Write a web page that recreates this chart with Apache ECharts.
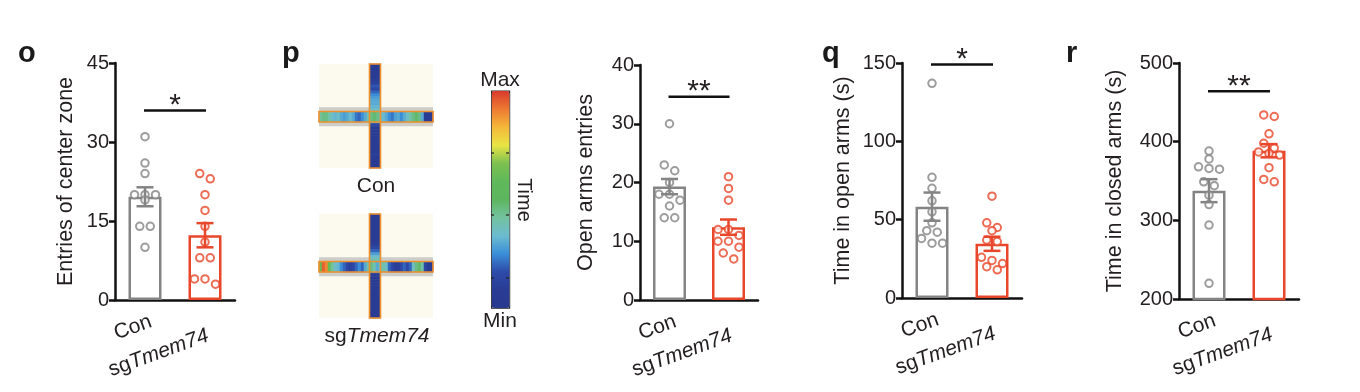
<!DOCTYPE html>
<html><head><meta charset="utf-8">
<script src="https://cdn.jsdelivr.net/npm/echarts@6/dist/echarts.min.js"></script>
<style>html,body{margin:0;padding:0;background:#fff}#c{width:1360px;height:392px}</style>
</head><body><div id="c"></div>
<script>
// ---------------- data ----------------
const categories = ['Con', 'sgTmem74'];

// panel o: Entries of center zone
const oCon = [31, 26, 24, 20, 20, 20, 19, 14, 14, 10];
const oSg = [24, 23, 20, 17, 14, 11, 8, 8, 4, 4, 3];
const oMean = [19.6, 12.3];
const oSem = [1.8, 2.3];
const oSigY = 36;
const oSigLabel = '*';
const oTicks = [0, 15, 30, 45];

// panel p: Open arms entries
const pCon = [30, 23, 22, 20, 18, 18, 17, 16, 14, 14];
const pSg = [21, 19, 17, 12, 12, 11, 10, 10, 9, 8, 7];
const pMean = [19.3, 12.4];
const pSem = [1.3, 1.3];
const pSigY = 34.6;
const pSigLabel = '**';
const pTicks = [0, 10, 20, 30, 40];

// panel q: Time in open arms (s)
const qCon = [137, 77, 70, 62, 55, 48, 43, 42, 38, 35, 35];
const qSg = [65, 48, 45, 43, 37, 36, 26, 24, 22, 20, 18];
const qMean = [58.3, 34.6];
const qSem = [9.0, 4.5];
const qSigY = 149;
const qSigLabel = '*';
const qTicks = [0, 50, 100, 150];

// panel r: Time in closed arms (s)
const rCon = [388, 378, 368, 366, 365, 349, 344, 332, 320, 294, 220];
const rSg = [434, 432, 410, 398, 392, 387, 385, 383, 367, 352, 349];
const rMean = [337.7, 388.5];
const rSem = [14.6, 8.4];
const rSigY = 464;
const rSigLabel = '**';
const rTicks = [200, 300, 400, 500];

// panel p heat maps (relative time, 0 = Min, 1 = Max), along each arm
const conHArm = [0.42,0.45,0.45,0.40,0.35,0.32,0.35,0.30,0.28,0.30,0.33,0.30,0.22,0.20,0.25,0.30,0.38,0.45,0.48,
                 0.45,0.38,0.33,0.30,0.25,0.22,0.28,0.30,0.25,0.30,0.35,0.40,0.45,0.48,0.45,0.30,0.08,0.05,0.05];
const conVArm = [0.05,0.05,0.05,0.06,0.08,0.10,0.12,0.18,0.15,0.20,0.25,0.28,0.30,0.30,0.32,0.35,0.40,0.45,
                 0.45,0.35,0.15,0.08,0.05,0.05,0.05,0.05,0.05,0.06,0.05,0.05,0.10,0.05,0.05,0.05,0.05];
const sgHArm = [0.60,0.95,0.90,0.60,0.42,0.35,0.32,0.25,0.20,0.15,0.12,0.15,0.20,0.25,0.20,0.30,0.40,0.45,0.40,
                0.30,0.35,0.40,0.35,0.20,0.15,0.10,0.10,0.15,0.20,0.15,0.20,0.35,0.45,0.48,0.40,0.15,0.08,0.05];
const sgVArm = [0.05,0.05,0.05,0.05,0.05,0.05,0.05,0.05,0.05,0.05,0.10,0.15,0.20,0.28,0.35,0.38,0.40,0.35,
                0.30,0.20,0.10,0.05,0.05,0.05,0.05,0.05,0.05,0.05,0.05,0.05,0.05,0.05,0.05,0.05,0.05];
const heatColors = ['#283a8f','#293c94','#2d4aa8','#3a8ed8','#6cbcd0','#74c2a0','#5cb65e','#5fb85a',
                    '#7cc050','#e8e444','#f4b83a','#ee7a32','#d83a2c'];

// ---------------- styling ----------------
const FONT = '"Liberation Sans", Arial, sans-serif';
const TXT = '#231f20';
const GRAY = '#848484';
const RED = '#e8472b';
const ORANGE = '#f0902a';
const LABEL_OFFSET = [[6, 21], [3, 35]]; // category label anchor offsets (px) from tick

const panels = [
  {con: oCon, sg: oSg, mean: oMean, sem: oSem, sigY: oSigY, sig: oSigLabel, ticks: oTicks,
   name: 'Entries of center zone', grid: {left: 115, top: 63, width: 120, height: 237}, gap: 38},
  {con: pCon, sg: pSg, mean: pMean, sem: pSem, sigY: pSigY, sig: pSigLabel, ticks: pTicks,
   name: 'Open arms entries', grid: {left: 640, top: 65, width: 118, height: 235}, gap: 43},
  {con: qCon, sg: qSg, mean: qMean, sem: qSem, sigY: qSigY, sig: qSigLabel, ticks: qTicks,
   name: 'Time in open arms (s)', grid: {left: 902, top: 63, width: 120, height: 235}, gap: 48},
  {con: rCon, sg: rSg, mean: rMean, sem: rSem, sigY: rSigY, sig: rSigLabel, ticks: rTicks,
   name: 'Time in closed arms (s)', grid: {left: 1179, top: 63, width: 120, height: 236}, gap: 53}
];

// scatter-dot layout (layout only): rows of at most 3 centred points, offsets in x-value units
function swarm(values, min, max, hPx, wPx) {
  const pxPerUnit = hPx / (max - min);
  const unitPerPx = 1 / (wPx / 2);
  const idx = values.map((v, i) => i).sort((a, b) => values[b] - values[a]);
  const groups = [];
  idx.forEach(i => {
    const g = groups[groups.length - 1];
    if (g && g.length < 3 && (values[g[0]] - values[i]) * pxPerUnit < 7) g.push(i); else groups.push([i]);
  });
  const off = new Array(values.length).fill(0);
  groups.forEach(g => g.forEach((i, k) => { off[i] = (k - (g.length - 1) / 2) * 10.5 * unitPerPx; }));
  return off;
}

const grids = [], xAxes = [], yAxes = [], series = [];

panels.forEach((P, k) => {
  const min = P.ticks[0], max = P.ticks[P.ticks.length - 1];
  grids.push(Object.assign({containLabel: false}, P.grid));
  const cx = xAxes.length;
  xAxes.push({type: 'category', gridIndex: k, data: categories, boundaryGap: true,
    axisLine: {onZero: false, lineStyle: {color: '#111', width: 2.5}},
    axisTick: {alignWithLabel: true, length: 6, lineStyle: {color: '#111', width: 2.5}},
    axisLabel: {show: false}});
  const vx = xAxes.length;
  xAxes.push({type: 'value', gridIndex: k, min: -0.5, max: 1.5, show: false});
  const yi = yAxes.length;
  yAxes.push({type: 'value', gridIndex: k, min: min, max: max, interval: P.ticks[1] - P.ticks[0],
    name: P.name, nameLocation: 'middle', nameGap: P.gap,
    nameTextStyle: {fontSize: 21.5, color: TXT, fontFamily: FONT},
    axisLine: {show: true, onZero: false, lineStyle: {color: '#111', width: 2.5}},
    axisTick: {show: true, length: 6, lineStyle: {color: '#111', width: 2.5}},
    axisLabel: {fontSize: 20, color: TXT, fontFamily: FONT, margin: 6},
    splitLine: {show: false}});
  // bars
  series.push({type: 'bar', xAxisIndex: cx, yAxisIndex: yi, barWidth: 33, silent: true,
    data: P.mean.map((m, i) => ({value: m, itemStyle: {color: '#fff', borderColor: i ? RED : GRAY, borderWidth: 2.5}})),
    z: 2});
  // points
  [P.con, P.sg].forEach((vals, g) => {
    const off = swarm(vals, min, max, P.grid.height, P.grid.width);
    series.push({type: 'scatter', xAxisIndex: vx, yAxisIndex: yi, symbol: 'emptyCircle', symbolSize: 7.5,
      silent: true, z: 4,
      itemStyle: {color: g ? RED : GRAY, borderColor: g ? RED : GRAY, borderWidth: 1.6},
      data: vals.map((v, i) => [g + off[i], v])});
  });
  // error bars
  series.push({type: 'custom', xAxisIndex: cx, yAxisIndex: yi, silent: true, z: 5,
    data: P.mean.map((m, i) => [i, m, P.sem[i]]),
    renderItem: (params, api) => {
      const i = api.value(0), m = api.value(1), s = api.value(2);
      const t = api.coord([i, m + s]), b = api.coord([i, m - s]);
      const st = {stroke: i ? RED : GRAY, lineWidth: 2.5};
      return {type: 'group', children: [
        {type: 'line', shape: {x1: t[0], y1: t[1], x2: b[0], y2: b[1]}, style: st},
        {type: 'line', shape: {x1: t[0] - 8.5, y1: t[1], x2: t[0] + 8.5, y2: t[1]}, style: st},
        {type: 'line', shape: {x1: b[0] - 8.5, y1: b[1], x2: b[0] + 8.5, y2: b[1]}, style: st}
      ]};
    }});
  // significance bracket
  series.push({type: 'custom', xAxisIndex: vx, yAxisIndex: yi, silent: true, z: 6, clip: false,
    data: [[0, 1, P.sigY]],
    renderItem: (params, api) => {
      const a = api.coord([api.value(0), api.value(2)]), b = api.coord([api.value(1), api.value(2)]);
      return {type: 'group', children: [
        {type: 'line', shape: {x1: a[0] - 1, y1: a[1], x2: b[0] + 1, y2: b[1]}, style: {stroke: '#111', lineWidth: 2.5}},
        {type: 'text', x: (a[0] + b[0]) / 2, y: a[1] + 10, style: {text: P.sig, fontSize: 30, fontFamily: FONT,
          fill: TXT, align: 'center', verticalAlign: 'bottom'}}
      ]};
    }});
  // rotated category labels
  series.push({type: 'custom', xAxisIndex: cx, yAxisIndex: yi, silent: true, z: 6, clip: false,
    data: categories.map((c, i) => [i, min]),
    renderItem: (params, api) => {
      const i = api.value(0);
      const p = api.coord([i, api.value(1)]);
      const name = categories[i];
      return {type: 'text', x: p[0] + LABEL_OFFSET[i][0], y: p[1] + LABEL_OFFSET[i][1], rotation: Math.PI / 9,
        style: {text: name === 'sgTmem74' ? '{r|sg}{i|Tmem74}' : '{r|' + name + '}', align: 'right', verticalAlign: 'middle',
          rich: {r: {fontSize: 21, fontFamily: FONT, fill: TXT}, i: {fontSize: 21, fontFamily: FONT, fill: TXT, fontStyle: 'italic'}}}};
    }});
});

// ---------------- maze heat maps ----------------
const mazeGrids = [
  {arm: conVArm, horiz: false, rect: {left: 369.5, top: 64, width: 11, height: 104}},
  {arm: conHArm, horiz: true, rect: {left: 319, top: 111.5, width: 114, height: 10.5}},
  {arm: sgVArm, horiz: false, rect: {left: 369.5, top: 214, width: 11, height: 104}},
  {arm: sgHArm, horiz: true, rect: {left: 319, top: 261.5, width: 114, height: 10.5}}
];
const heatSeries = [];
mazeGrids.forEach(M => {
  const gi = grids.length;
  grids.push(Object.assign({show: true, z: 10, backgroundColor: 'transparent', borderColor: ORANGE, borderWidth: 1.6}, M.rect));
  const along = M.arm.map((v, i) => String(i));
  const xi = xAxes.length, yi = yAxes.length;
  xAxes.push({type: 'category', gridIndex: gi, show: false, data: M.horiz ? along : ['0']});
  yAxes.push({type: 'category', gridIndex: gi, show: false, inverse: true, data: M.horiz ? ['0'] : along});
  heatSeries.push(series.length);
  series.push({type: 'heatmap', xAxisIndex: xi, yAxisIndex: yi, silent: true, z: 3,
    emphasis: {disabled: true},
    data: M.arm.map((v, i) => M.horiz ? [i, 0, v] : [0, i, v])});
});

// ---------------- decorations ----------------
const graphics = [];
[64, 214].forEach(top => {
  graphics.push({type: 'rect', shape: {x: 319, y: top, width: 114, height: 104}, style: {fill: '#fcf9ef'}, z: -1});
  graphics.push({type: 'rect', shape: {x: 319, y: top + 43.3, width: 114, height: 19}, style: {fill: '#cdcdc9'}, z: 0});
});
const txt = (x, y, t, o) => Object.assign({type: 'text', x: x, y: y, style: Object.assign({text: t, fontSize: 21,
  fontFamily: FONT, fill: TXT, align: 'center', verticalAlign: 'middle'}, o || {})}, {z: 20});
graphics.push(txt(376, 186, 'Con'));
graphics.push({type: 'text', x: 377, y: 336, z: 20, style: {text: '{r|sg}{i|Tmem74}', align: 'center', verticalAlign: 'middle',
  rich: {r: {fontSize: 21, fontFamily: FONT, fill: TXT}, i: {fontSize: 21, fontFamily: FONT, fill: TXT, fontStyle: 'italic'}}}});
graphics.push(txt(500, 80, 'Max'));
graphics.push(txt(500, 321, 'Min'));
graphics.push(Object.assign(txt(524, 200, 'Time', {fontSize: 20}), {rotation: -Math.PI / 2}));
[153, 215, 278].forEach(y => {
  graphics.push({type: 'line', z: 50, shape: {x1: 491, y1: y, x2: 494, y2: y}, style: {stroke: '#222', lineWidth: 1.2}});
  graphics.push({type: 'line', z: 50, shape: {x1: 506, y1: y, x2: 509, y2: y}, style: {stroke: '#222', lineWidth: 1.2}});
});
[['o', 18], ['p', 282], ['q', 822], ['r', 1066]].forEach(([t, x]) => {
  graphics.push({type: 'text', x: x, y: 39, z: 20, style: {text: t, fontSize: 29, fontWeight: 'bold', fontFamily: FONT,
    fill: '#1a1a1a', align: 'left', verticalAlign: 'alphabetic'}});
});

const chart = echarts.init(document.getElementById('c'), null, {renderer: 'canvas'});
chart.setOption({
  animation: false,
  backgroundColor: '#fff',
  textStyle: {fontFamily: FONT},
  grid: grids, xAxis: xAxes, yAxis: yAxes, series: series,
  visualMap: {type: 'continuous', min: 0, max: 1, seriesIndex: heatSeries, calculable: false, show: true,
    left: 491, top: 90.5, itemWidth: 18, itemHeight: 217, padding: 0, text: null, hoverLink: false,
    borderColor: '#222', borderWidth: 1.2, inRange: {color: heatColors}},
  graphic: graphics
});
</script></body></html>
